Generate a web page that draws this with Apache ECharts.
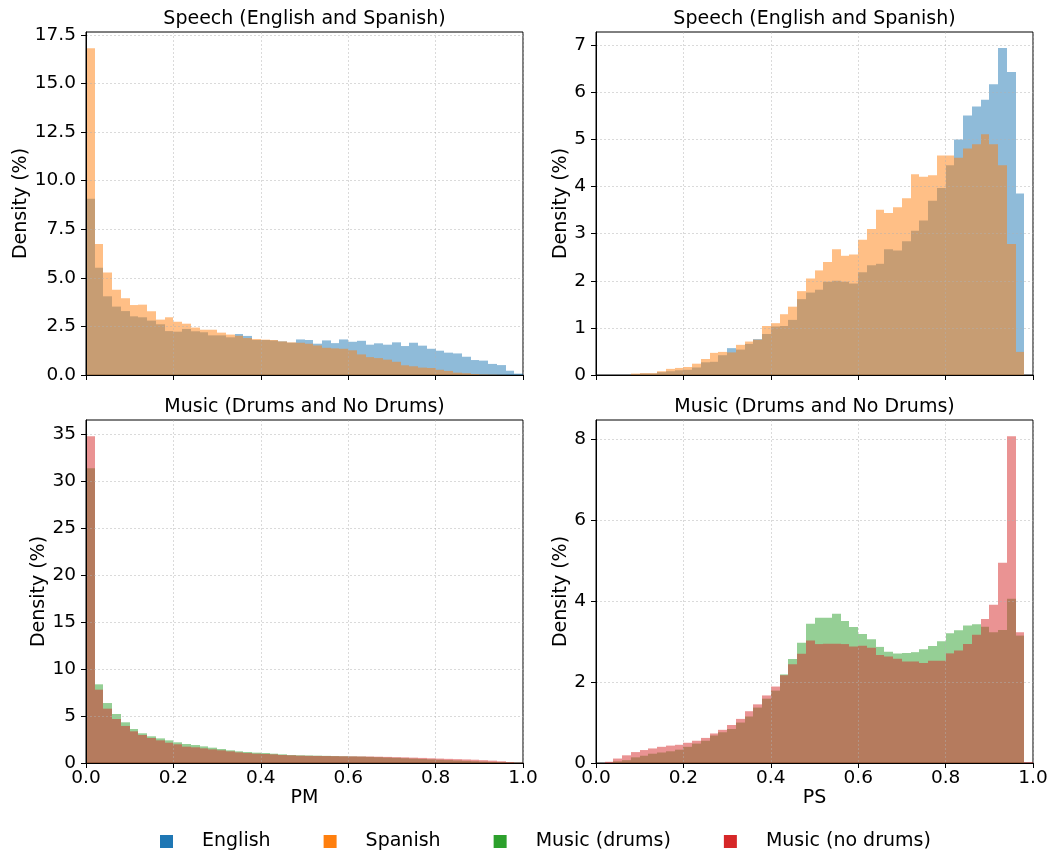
<!DOCTYPE html>
<html><head><meta charset="utf-8">
<script src="https://cdn.jsdelivr.net/npm/echarts@6/dist/echarts.min.js"></script>
<style>html,body{margin:0;padding:0;background:#fff}#c{width:1051px;height:850px}</style>
</head><body><div id="c"></div><script>
// ---------- data (density %, 50 bins of width 0.02 on [0,1]) ----------
const binCount = 50;
const binWidth = 0.02;

const englishPM = [9.07, 5.52, 4.05, 3.52, 3.29, 3.02, 2.97, 2.80, 2.61, 2.26,
  2.23, 2.37, 2.25, 2.20, 2.04, 2.04, 1.94, 2.11, 2.01, 1.80,
  1.80, 1.78, 1.73, 1.66, 1.83, 1.80, 1.61, 1.78, 1.64, 1.83,
  1.71, 1.76, 1.56, 1.63, 1.56, 1.68, 1.49, 1.66, 1.51, 1.35,
  1.25, 1.15, 1.11, 0.94, 0.77, 0.74, 0.57, 0.51, 0.22, 0.07];
const spanishPM = [16.81, 6.74, 5.27, 4.39, 3.95, 3.60, 3.62, 3.28, 2.85, 2.97,
  2.74, 2.64, 2.44, 2.33, 2.33, 2.18, 2.08, 2.02, 1.90, 1.85,
  1.82, 1.80, 1.73, 1.68, 1.66, 1.61, 1.52, 1.40, 1.37, 1.35,
  1.27, 1.06, 0.92, 0.87, 0.79, 0.68, 0.50, 0.45, 0.38, 0.36,
  0.27, 0.21, 0.12, 0.09, 0.05, 0.03, 0.02, 0.01, 0.00, 0.00];
const englishPS = [0, 0, 0, 0, 0.02, 0.03, 0.03, 0.06, 0.08, 0.10,
  0.11, 0.16, 0.27, 0.28, 0.42, 0.57, 0.54, 0.66, 0.76, 0.87,
  1.03, 1.04, 1.17, 1.61, 1.75, 1.81, 1.98, 2.00, 1.98, 1.94,
  2.18, 2.33, 2.36, 2.67, 2.64, 2.84, 3.06, 3.28, 3.70, 3.97,
  4.45, 5.00, 5.51, 5.70, 5.84, 6.17, 6.94, 6.43, 3.85, 0.00];
const spanishPS = [0, 0, 0, 0, 0.03, 0.04, 0.04, 0.08, 0.13, 0.15,
  0.17, 0.24, 0.34, 0.47, 0.49, 0.48, 0.64, 0.71, 0.75, 1.04,
  1.10, 1.29, 1.45, 1.78, 2.05, 2.22, 2.40, 2.67, 2.53, 2.56,
  2.87, 3.10, 3.51, 3.44, 3.56, 3.75, 4.26, 4.21, 4.24, 4.66,
  4.66, 4.61, 4.81, 4.90, 5.11, 4.90, 4.45, 2.78, 0.49, 0.00];
const drumsPM = [31.35, 8.37, 6.38, 5.21, 4.33, 3.62, 3.16, 2.84, 2.62, 2.41,
  2.20, 2.02, 1.91, 1.77, 1.63, 1.49, 1.35, 1.24, 1.17, 1.10,
  1.06, 0.99, 0.92, 0.85, 0.82, 0.80, 0.78, 0.76, 0.74, 0.72,
  0.70, 0.68, 0.65, 0.62, 0.58, 0.55, 0.51, 0.47, 0.43, 0.39,
  0.35, 0.31, 0.27, 0.23, 0.19, 0.15, 0.11, 0.08, 0.05, 0.02];
const noDrumsPM = [34.75, 7.80, 5.78, 4.68, 3.94, 3.37, 2.98, 2.66, 2.41, 2.16,
  1.99, 1.74, 1.67, 1.56, 1.45, 1.35, 1.24, 1.13, 1.06, 0.99,
  0.96, 0.92, 0.85, 0.82, 0.78, 0.76, 0.75, 0.74, 0.73, 0.72,
  0.71, 0.70, 0.69, 0.67, 0.65, 0.62, 0.60, 0.57, 0.54, 0.50,
  0.47, 0.44, 0.41, 0.38, 0.35, 0.30, 0.25, 0.18, 0.10, 0.03];
const drumsPS = [0, 0, 0.04, 0.07, 0.14, 0.18, 0.23, 0.26, 0.29, 0.33,
  0.40, 0.48, 0.55, 0.68, 0.76, 0.84, 1.00, 1.15, 1.37, 1.59,
  1.79, 2.19, 2.57, 2.97, 3.44, 3.59, 3.59, 3.69, 3.51, 3.36,
  3.19, 3.06, 2.87, 2.75, 2.71, 2.72, 2.74, 2.81, 2.89, 3.01,
  3.21, 3.28, 3.40, 3.43, 3.37, 3.23, 3.29, 4.06, 3.15, 0.00];
const noDrumsPS = [0, 0.03, 0.11, 0.19, 0.27, 0.32, 0.36, 0.40, 0.43, 0.45,
  0.50, 0.55, 0.62, 0.73, 0.82, 0.94, 1.09, 1.28, 1.45, 1.67,
  1.89, 2.17, 2.44, 2.70, 3.03, 2.94, 2.95, 2.95, 2.94, 2.88,
  2.90, 2.85, 2.67, 2.63, 2.58, 2.51, 2.51, 2.47, 2.53, 2.53,
  2.71, 2.78, 2.94, 3.17, 3.56, 3.91, 4.95, 8.08, 3.23, 0.02];

const xTicks = [0, 0.2, 0.4, 0.6, 0.8, 1.0];
const yTicksSpeechPM = [0, 2.5, 5, 7.5, 10, 12.5, 15, 17.5];
const yTicksSpeechPS = [0, 1, 2, 3, 4, 5, 6, 7];
const yTicksMusicPM = [0, 5, 10, 15, 20, 25, 30, 35];
const yTicksMusicPS = [0, 2, 4, 6, 8];

const titles = ['Speech (English and Spanish)', 'Speech (English and Spanish)',
  'Music (Drums and No Drums)', 'Music (Drums and No Drums)'];
const legendNames = ['English', 'Spanish', 'Music (drums)', 'Music (no drums)'];
const colors = {'English': '#1f77b4', 'Spanish': '#ff7f0e', 'Music (drums)': '#2ca02c', 'Music (no drums)': '#d62728'};
const fills = {'English': 'rgba(31,119,180,0.5)', 'Spanish': 'rgba(255,127,14,0.5)',
  'Music (drums)': 'rgba(44,160,44,0.5)', 'Music (no drums)': 'rgba(214,39,40,0.5)'};

// ---------- layout ----------
const FONT = 'DejaVu Sans';
const grids = [
  {left: 86, top: 32, width: 437, height: 343},
  {left: 596, top: 32, width: 437, height: 343},
  {left: 86, top: 420, width: 437, height: 343},
  {left: 596, top: 420, width: 437, height: 343}
];
const yMax = [17.65, 7.28, 36.49, 8.48];
const yTicks = [yTicksSpeechPM, yTicksSpeechPS, yTicksMusicPM, yTicksMusicPS];
const yFmt = [v => v.toFixed(1), v => String(v), v => String(v), v => String(v)];
const yNameGap = [54, 24, 37, 24];

function histData(values) {
  return values.map((v, i) => [+(i * binWidth).toFixed(4), +((i + 1) * binWidth).toFixed(4), v]);
}
function renderBar(params, api) {
  const p0 = api.coord([api.value(0), api.value(2)]);
  const p1 = api.coord([api.value(1), 0]);
  const x0 = Math.round(p0[0]), x1 = Math.round(p1[0]);
  return {
    type: 'rect',
    shape: {x: x0, y: p0[1], width: x1 - x0, height: p1[1] - p0[1]},
    style: {fill: fills[params.seriesName]}
  };
}
function hist(name, values, idx) {
  return {
    type: 'custom', name: name, xAxisIndex: idx, yAxisIndex: idx,
    renderItem: renderBar, data: histData(values),
    itemStyle: {color: colors[name]}, z: 2, silent: true,
    encode: {x: [0, 1], y: 2}
  };
}

const axisLineStyle = {color: '#000', width: 1};
const gridLine = {show: true, lineStyle: {color: 'rgba(176,176,176,0.6)', width: 0.8, type: [2, 2]}};

const option = {
  backgroundColor: '#fff',
  animation: false,
  textStyle: {fontFamily: FONT},
  title: titles.map((t, i) => ({
    text: t,
    left: grids[i].left + grids[i].width / 2,
    top: grids[i].top - 22,
    textAlign: 'center', textVerticalAlign: 'top', padding: 0,
    textStyle: {fontFamily: FONT, fontSize: 19, fontWeight: 'normal', color: '#000'}
  })),
  legend: {
    data: legendNames, left: 160, top: 832, icon: 'rect',
    itemWidth: 13, itemHeight: 13, itemGap: 53, selectedMode: false, padding: 0,
    textStyle: {fontFamily: FONT, fontSize: 19, color: '#000', padding: [0, 0, 0, 24]}
  },
  grid: grids.map(g => Object.assign({show: true, borderColor: '#000', borderWidth: 1,
    backgroundColor: 'transparent', containLabel: false, outerBoundsMode: 'none'}, g)),
  xAxis: grids.map((g, i) => ({
    type: 'value', gridIndex: i, min: 0, max: 1, interval: 0.2, z: 3,
    name: i === 2 ? 'PM' : (i === 3 ? 'PS' : ''),
    nameLocation: 'middle', nameGap: 19,
    nameTextStyle: {fontFamily: FONT, fontSize: 19, color: '#000'},
    axisLine: {show: true, onZero: false, lineStyle: axisLineStyle},
    axisTick: {show: true, length: 5, lineStyle: axisLineStyle, customValues: xTicks},
    axisLabel: {show: i >= 2, margin: 6, fontFamily: FONT, fontSize: 18.5, color: '#000',
      customValues: xTicks, formatter: v => v.toFixed(1), showMinLabel: true, showMaxLabel: true},
    splitLine: gridLine
  })),
  yAxis: grids.map((g, i) => ({
    type: 'value', gridIndex: i, min: 0, max: yMax[i], z: 3,
    name: 'Density (%)', nameLocation: 'middle', nameGap: yNameGap[i],
    nameTextStyle: {fontFamily: FONT, fontSize: 19, color: '#000'},
    axisLine: {show: true, onZero: false, lineStyle: axisLineStyle},
    axisTick: {show: true, length: 5, lineStyle: axisLineStyle, customValues: yTicks[i]},
    axisLabel: {show: true, margin: 10, fontFamily: FONT, fontSize: 18.5, color: '#000',
      customValues: yTicks[i], formatter: yFmt[i]},
    splitLine: gridLine
  })),
  series: [
    hist('English', englishPM, 0),
    hist('Spanish', spanishPM, 0),
    hist('English', englishPS, 1),
    hist('Spanish', spanishPS, 1),
    hist('Music (drums)', drumsPM, 2),
    hist('Music (no drums)', noDrumsPM, 2),
    hist('Music (drums)', drumsPS, 3),
    hist('Music (no drums)', noDrumsPS, 3)
  ]
};
const chart = echarts.init(document.getElementById('c'), null, {renderer: 'canvas'});
chart.setOption(option);
</script></body></html>
